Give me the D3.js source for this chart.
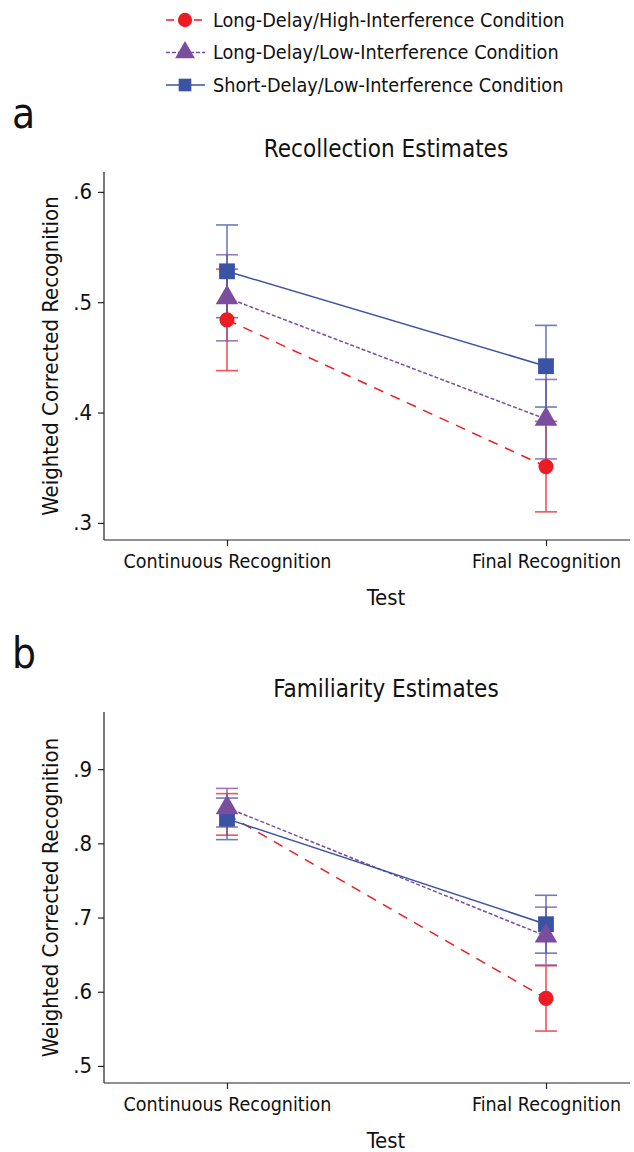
<!DOCTYPE html>
<html>
  <head>
    <style>
      body { margin: 0; background: #fff; }
      svg text { font-family: "Liberation Sans Narrow", "DejaVu Sans Condensed", "Roboto Condensed", sans-serif; fill: #111; }
      .axis path, .axis line { stroke: #222; stroke-width: 1.2; }
    </style>
  </head>
  <body>
    <svg id="chart" width="634" height="1152"></svg>

    <script src="https://cdn.jsdelivr.net/npm/d3@7"></script>
    <script type="text/javascript">
      const tests = ["Continuous Recognition", "Final Recognition"];
      const conditions = [
        "Long-Delay/High-Interference Condition",
        "Long-Delay/Low-Interference Condition",
        "Short-Delay/Low-Interference Condition"
      ];
      const colors = ["#ec1c24", "#7b4d9f", "#3a53a4"];
      const dashes = ["10,8", "4,2", null];
      const shapes = [d3.symbolCircle, d3.symbolTriangle, d3.symbolSquare];

      // recollection estimates (rows follow conditions, columns follow tests)
      const recollectionMeans = [[0.484, 0.351], [0.504, 0.394], [0.528, 0.442]];
      const recollectionErrors = [[0.046, 0.041], [0.039, 0.036], [0.042, 0.037]];
      const recollectionTicks = [0.3, 0.4, 0.5, 0.6];

      // familiarity estimates
      const familiarityMeans = [[0.839, 0.591], [0.848, 0.675], [0.833, 0.691]];
      const familiarityErrors = [[0.028, 0.044], [0.026, 0.039], [0.028, 0.039]];
      const familiarityTicks = [0.5, 0.6, 0.7, 0.8, 0.9];

      const svg = d3.select("#chart");
      const fmt = d => d3.format(".1f")(d).replace(/^0/, "");

      // legend
      const legend = svg.append("g");
      conditions.forEach(function(c, i) {
        const g = legend.append("g").attr("transform", "translate(0," + (20 + i * 32.5) + ")");
        g.append("line").attr("x1", 166).attr("x2", 205)
          .attr("stroke", colors[i]).attr("stroke-width", 1.5)
          .attr("stroke-dasharray", i == 0 ? "8,6" : dashes[i]);
        g.append("path").attr("transform", "translate(185,0)")
          .attr("d", d3.symbol().type(shapes[i]).size(i == 1 ? 170 : 160)())
          .attr("fill", colors[i]);
        g.append("text").attr("x", 213).attr("dy", "0.35em")
          .style("font-size", "19.7px").text(c);
      });

      function drawPanel(opt) {
        const left = 104, right = 630, top = opt.top, bottom = opt.bottom;
        const g = svg.append("g");

        const x = d3.scalePoint().domain(tests).range([227, 546]);
        const y = d3.scaleLinear().domain(opt.domain).range([bottom, top]);

        g.append("text").attr("x", 12).attr("y", opt.top - 44)
          .style("font-size", "42px").text(opt.letter);
        g.append("text").attr("x", 386).attr("y", opt.top - 15)
          .attr("text-anchor", "middle").style("font-size", "24px").text(opt.title);

        const ya = g.append("g").attr("class", "axis")
          .attr("transform", "translate(" + left + ",0)")
          .call(d3.axisLeft(y).tickValues(opt.ticks).tickFormat(fmt).tickSizeOuter(0).tickSize(6).tickPadding(6));
        ya.select(".domain").remove();
        ya.append("line").attr("y1", top).attr("y2", bottom).attr("stroke", "#222").attr("stroke-width", 1.2);
        ya.selectAll("text").style("font-size", "22px").attr("fill", "#111");

        const xa = g.append("g").attr("class", "axis")
          .attr("transform", "translate(0," + bottom + ")")
          .call(d3.axisBottom(x).tickSize(6).tickPadding(8));
        xa.select(".domain").remove();
        xa.append("line").attr("x1", left).attr("x2", right).attr("stroke", "#222").attr("stroke-width", 1.2);
        xa.selectAll("text").style("font-size", "19.5px").attr("fill", "#111");

        g.append("text").attr("x", 386).attr("y", bottom + 65)
          .attr("text-anchor", "middle").style("font-size", "22px").text("Test");
        g.append("text")
          .attr("transform", "translate(50," + ((top + bottom) / 2) + ") rotate(-90)")
          .attr("text-anchor", "middle").attr("dy", "0.35em")
          .style("font-size", "22px").text("Weighted Corrected Recognition");

        const series = conditions.map(function(c, i) {
          return tests.map(function(t, j) {
            return { test: t, i: i, m: opt.means[i][j], e: opt.errors[i][j] };
          });
        });

        // error bars
        series.forEach(function(s, i) {
          const eb = g.append("g").attr("stroke", colors[i]).attr("stroke-width", 1.6).attr("opacity", 0.75);
          s.forEach(function(d) {
            const cx = x(d.test);
            eb.append("line").attr("x1", cx).attr("x2", cx).attr("y1", y(d.m - d.e)).attr("y2", y(d.m + d.e));
            eb.append("line").attr("x1", cx - 11).attr("x2", cx + 11).attr("y1", y(d.m - d.e)).attr("y2", y(d.m - d.e));
            eb.append("line").attr("x1", cx - 11).attr("x2", cx + 11).attr("y1", y(d.m + d.e)).attr("y2", y(d.m + d.e));
          });
        });

        // lines
        const line = d3.line().x(d => x(d.test)).y(d => y(d.m));
        series.forEach(function(s, i) {
          g.append("path").datum(s).attr("d", line).attr("fill", "none")
            .attr("stroke", colors[i]).attr("stroke-width", 1.5)
            .attr("stroke-dasharray", dashes[i]);
        });

        // markers
        [0, 2, 1].forEach(function(i) {
          g.selectAll(null).data(series[i]).enter().append("path")
            .attr("transform", d => "translate(" + x(d.test) + "," + y(d.m) + ")")
            .attr("d", d3.symbol().type(shapes[i]).size(i == 1 ? 220 : i == 0 ? 180 : 250)())
            .attr("fill", colors[i]);
        });
      }

      drawPanel({ letter: "a", title: "Recollection Estimates", top: 172, bottom: 540,
        domain: [0.2845, 0.618], ticks: recollectionTicks,
        means: recollectionMeans, errors: recollectionErrors });

      drawPanel({ letter: "b", title: "Familiarity Estimates", top: 712, bottom: 1083,
        domain: [0.477, 0.977], ticks: familiarityTicks,
        means: familiarityMeans, errors: familiarityErrors });
    </script>
  </body>
</html>
